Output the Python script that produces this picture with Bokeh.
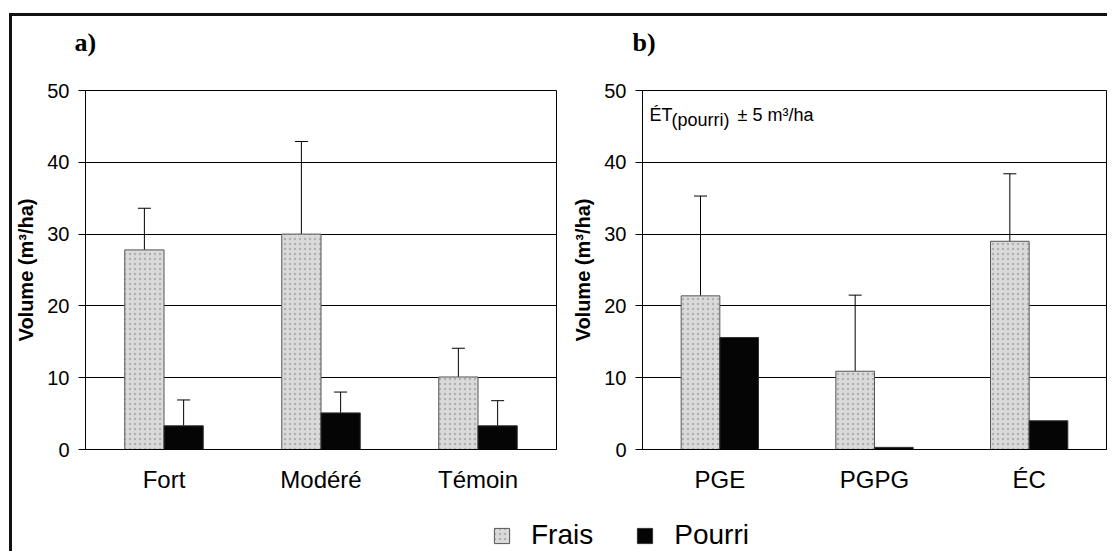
from bokeh.plotting import figure
from bokeh.layouts import column, row
from bokeh.models import (ColumnDataSource, FactorRange, Range1d, Whisker, TeeHead,
                          Label, Legend, LegendItem, Title)
from bokeh.transform import dodge
from bokeh.embed import file_html
from bokeh.resources import INLINE

# ---------------- data ----------------
cats_a = ["Fort", "Modéré", "Témoin"]
frais_a = [27.8, 30.0, 10.1]
frais_a_sd = [5.8, 12.9, 4.0]
pourri_a = [3.3, 5.1, 3.3]
pourri_a_sd = [3.6, 2.9, 3.5]

cats_b = ["PGE", "PGPG", "ÉC"]
frais_b = [21.4, 10.9, 29.0]
frais_b_sd = [13.9, 10.6, 9.4]
pourri_b = [15.6, 0.3, 4.0]

series = ["Frais", "Pourri"]
y_ticks = [0, 10, 20, 30, 40, 50]
y_label = "Volume (m³/ha)"
panel_titles = ["a)", "b)"]

FONT = "Liberation Sans"
FRAIS_STYLE = dict(fill_color="#dadada", line_color="#555555", line_width=1,
                   hatch_pattern="dot", hatch_color="#8c8c8c", hatch_scale=5,
                   hatch_weight=1, hatch_alpha=0.55)
POURRI_STYLE = dict(fill_color="#050505", line_color="#333333", line_width=1)


def make_panel(cats, frais, frais_sd, pourri, pourri_sd, title, width, height,
               bl, br, bt, bb, title_offset):
    p = figure(x_range=FactorRange(*cats, range_padding=0), y_range=Range1d(0, 50),
               width=width, height=height,
               output_backend="svg", toolbar_location=None,
               min_border_left=bl, min_border_right=br,
               min_border_top=bt, min_border_bottom=bb)
    data = dict(cat=cats, frais=frais, pourri=pourri,
                frais_top=[m + s for m, s in zip(frais, frais_sd)])
    if pourri_sd is not None:
        data["pourri_top"] = [m + s for m, s in zip(pourri, pourri_sd)]
    src = ColumnDataSource(data)

    p.vbar(x=dodge("cat", -0.125, range=p.x_range), top="frais", width=0.25,
           source=src, **FRAIS_STYLE)
    p.vbar(x=dodge("cat", 0.125, range=p.x_range), top="pourri", width=0.25,
           source=src, **POURRI_STYLE)

    p.add_layout(Whisker(source=src, base=dodge("cat", -0.125, range=p.x_range),
                         lower="frais", upper="frais_top", line_color="black",
                         line_width=1, lower_head=None,
                         upper_head=TeeHead(size=13, line_color="black", line_width=1)))
    if pourri_sd is not None:
        p.add_layout(Whisker(source=src, base=dodge("cat", 0.125, range=p.x_range),
                             lower="pourri", upper="pourri_top", line_color="black",
                             line_width=1, lower_head=None,
                             upper_head=TeeHead(size=13, line_color="black", line_width=1)))

    # spacer panel between the frame and the panel letter
    p.add_layout(Title(text=" ", text_font_size="1px", standoff=31), "above")
    # panel letter
    p.add_layout(Title(text=title, text_font="Liberation Serif", text_font_size="26px",
                       text_font_style="bold", text_color="black", align="left",
                       offset=title_offset, standoff=0), "above")

    p.outline_line_color = "black"
    p.outline_line_width = 1
    p.background_fill_color = "white"
    p.border_fill_color = "white"

    p.xgrid.visible = False
    p.ygrid.grid_line_color = "black"
    p.ygrid.grid_line_width = 1
    p.yaxis.ticker = y_ticks

    p.yaxis.axis_label = y_label
    p.yaxis.axis_label_text_font = FONT
    p.yaxis.axis_label_text_font_size = "20px"
    p.yaxis.axis_label_text_font_style = "bold"
    p.yaxis.axis_label_text_color = "black"
    p.yaxis.axis_label_standoff = 7
    p.yaxis.major_label_text_font = FONT
    p.yaxis.major_label_text_font_size = "20px"
    p.yaxis.major_label_text_color = "black"
    p.yaxis.major_label_standoff = 9
    p.yaxis.major_tick_out = 7
    p.yaxis.major_tick_in = 0
    p.yaxis.major_tick_line_color = "black"
    p.yaxis.minor_tick_line_color = None
    p.yaxis.axis_line_color = "black"

    p.xaxis.major_label_text_font = FONT
    p.xaxis.major_label_text_font_size = "24px"
    p.xaxis.major_label_text_color = "black"
    p.xaxis.major_label_standoff = 10
    p.xaxis.major_tick_line_color = None
    p.xaxis.minor_tick_line_color = None
    p.xaxis.axis_line_color = "black"
    return p


pa = make_panel(cats_a, frais_a, frais_a_sd, pourri_a, pourri_a_sd, panel_titles[0],
                width=548, height=482, bl=72, br=4, bt=74, bb=45, title_offset=-11)
pb = make_panel(cats_b, frais_b, frais_b_sd, pourri_b, None, panel_titles[1],
                width=547, height=482, bl=82, br=1, bt=74, bb=49, title_offset=-10)

# annotation in panel b : ÉT(pourri) ± 5 m³/ha
for txt, dx, dy in [("ÉT", 7, -24), ("(pourri)", 29, -29), ("± 5 m³/ha", 95, -24)]:
    pb.add_layout(Label(x=0, y=50, x_offset=dx, y_offset=dy, text=txt,
                        text_font=FONT, text_font_size="18px", text_color="black",
                        text_baseline="alphabetic", text_align="left"))

# legend strip (dummy renderers kept outside the visible range)
leg = figure(width=1095, height=53, x_range=Range1d(0, 1), y_range=Range1d(0, 1),
             output_backend="svg", toolbar_location=None, min_border=0,
             x_axis_location=None, y_axis_location=None, outline_line_color=None)
leg.grid.visible = False
dummy = ColumnDataSource(dict(x=[5.0], top=[5.0]))
r1 = leg.vbar(x="x", top="top", width=0.1, source=dummy, **FRAIS_STYLE)
r2 = leg.vbar(x="x", top="top", width=0.1, source=dummy, **POURRI_STYLE)
legend = Legend(items=[LegendItem(label=series[0], renderers=[r1]),
                       LegendItem(label=series[1], renderers=[r2])],
                orientation="horizontal", location=(480, 0),
                label_text_font=FONT, label_text_font_size="28px",
                label_text_color="black",
                glyph_width=19, glyph_height=19, label_standoff=20, spacing=42,
                padding=0, margin=0, border_line_color=None,
                background_fill_alpha=0)
leg.add_layout(legend)

layout = column(row(pa, pb), leg,
                styles={"border-left": "3px solid #111", "border-top": "3px solid #111"},
                margin=(13, 0, 0, 9))

open("out.html", "w").write(file_html(layout, INLINE))
